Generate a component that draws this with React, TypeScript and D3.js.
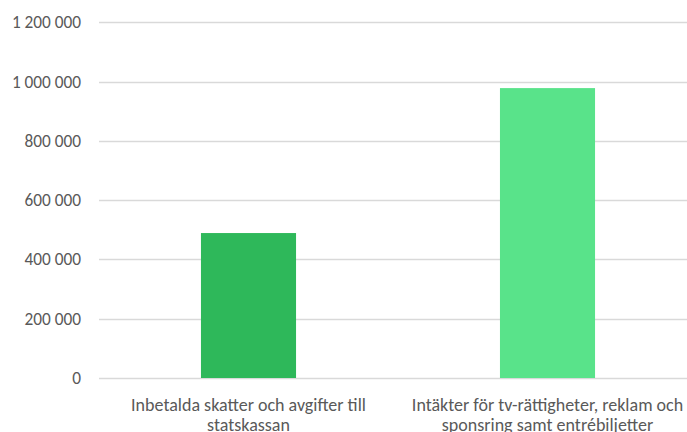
import React from "react";
import * as d3 from "d3";

const categories = [
  ["Inbetalda skatter och avgifter till", "statskassan"],
  ["Intäkter för tv-rättigheter, reklam och", "sponsring samt entrébiljetter"],
];
const values = [489000, 978000];
const barColors = ["#2EB85A", "#59E38A"];
const yTicks = [0, 200000, 400000, 600000, 800000, 1000000, 1200000];

const width = 687;
const height = 432;
const fontFamily = "Calibri, Carlito, 'Open Sans', sans-serif";

const fmt = (v: number) => d3.format(",")(v).replace(/,/g, " ");

export default function App() {
  const y = d3.scaleLinear().domain([0, 1200000]).range([378, 22.3]);
  const x = d3
    .scaleBand<number>()
    .domain(categories.map((_, i) => i))
    .range([99, 697])
    .padding(0);
  const barW = x.bandwidth() * 0.318;

  return (
    <div style={{ position: "fixed", left: 0, top: 0 }}>
      <svg width={width} height={height} style={{ display: "block", background: "#fff" }}>
        {/* gridlines + y labels */}
        {yTicks.map((t) => (
          <g key={t}>
            <line
              x1={99}
              x2={width}
              y1={Math.round(y(t)) + 0.5}
              y2={Math.round(y(t)) + 0.5}
              stroke="#d9d9d9"
              strokeWidth={1.3}
            />
            <text
              x={81}
              y={y(t)}
              dy="0.35em"
              textAnchor="end"
              fontFamily={fontFamily}
              fontSize={17.3}
              fill="#595959"
            >
              {fmt(t)}
            </text>
          </g>
        ))}

        {/* bars */}
        {values.map((v, i) => {
          const cx = (x(i) as number) + x.bandwidth() / 2;
          return (
            <rect
              key={i}
              x={cx - barW / 2}
              y={y(v)}
              width={barW}
              height={y(0) - y(v)}
              fill={barColors[i]}
            />
          );
        })}

        {/* category labels */}
        {categories.map((lines, i) => {
          const cx = (x(i) as number) + x.bandwidth() / 2;
          return (
            <text
              key={i}
              x={cx}
              textAnchor="middle"
              fontFamily={fontFamily}
              fontSize={18}
              fill="#595959"
            >
              {lines.map((l, j) => (
                <tspan key={j} x={cx} y={405 + j * 20} dy="0.35em">
                  {l}
                </tspan>
              ))}
            </text>
          );
        })}
      </svg>
    </div>
  );
}
